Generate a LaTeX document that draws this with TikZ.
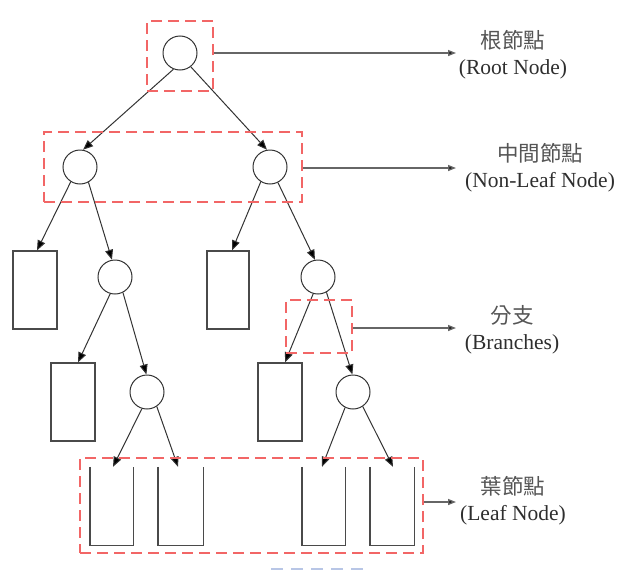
\documentclass[tikz,border=0pt]{standalone}
\usepackage{fontspec}
\setmainfont{Liberation Serif}
\newfontfamily\cjk{Noto Sans CJK TC}
\usetikzlibrary{arrows.meta}
\definecolor{hlred}{HTML}{F26666}
\definecolor{hlblue}{HTML}{B8C6E6}
\definecolor{lineg}{HTML}{333333}
\definecolor{boxg}{HTML}{4A4A4A}
\definecolor{cjkg}{HTML}{555555}
\definecolor{txtg}{HTML}{2E2E2E}
\begin{document}
\begin{tikzpicture}[x=1pt,y=-1pt,
  tnode/.style={circle, draw=lineg, line width=1pt, minimum size=34pt, inner sep=0pt},
  tbox/.style={rectangle, draw=boxg, line width=1.2pt, inner sep=0pt, minimum width=44pt, minimum height=78pt},
  leafbox/.style={rectangle, inner sep=0pt, minimum width=44pt, minimum height=78pt},
  leafline/.style={draw=boxg, line width=1.4pt},
  edge/.style={draw=lineg, line width=1pt, -{Triangle[length=10pt,width=8pt,fill=black]}},
  hl/.style={rectangle, draw=hlred, line width=1.5pt, dash pattern=on 11pt off 6pt, inner sep=0pt},
  ptr/.style={draw=black!60, line width=1.4pt, -{Triangle[length=8pt,width=6pt,fill=black]}},
  lab/.style={align=center, inner sep=0pt, text=txtg, font=\fontsize{21.5}{26}\selectfont}
]
\useasboundingbox (0,0) rectangle (617,570);

% tree nodes
\node[tnode] (root) at (180,53) {};
\node[tnode] (n1) at (80,167) {};
\node[tnode] (n2) at (270,167) {};
\node[tbox] (r1) at (35,290) {};
\node[tnode] (n3) at (115,277) {};
\node[tbox, minimum width=42pt] (r2) at (228,290) {};
\node[tnode] (n4) at (318,277) {};
\node[tbox] (r3) at (73,402) {};
\node[tnode] (n5) at (147,392) {};
\node[tbox] (r4) at (280,402) {};
\node[tnode] (n6) at (353,392) {};

% leaf nodes (open at top)
\node[leafbox, minimum width=43pt] (L1) at (111.5,506) {};
\node[leafbox, minimum width=45pt] (L2) at (180.5,506) {};
\node[leafbox, minimum width=43pt] (L3) at (323.5,506) {};
\node[leafbox, minimum width=44pt] (L4) at (392,506) {};
\foreach \l in {L1,L2,L3,L4}
  \draw[leafline] (\l.north west) -- (\l.south west) -- (\l.south east) -- (\l.north east);

% edges
\draw[edge] (root.248) -- (n1.80);
\draw[edge] (root.308) -- (n2.100);
\draw[edge] (n1.238) -- ([xshift=2pt]r1.north);
\draw[edge] (n1.299) -- (n3.100);
\draw[edge] (n2.238) -- ([xshift=4pt]r2.north);
\draw[edge] (n2.297) -- (n4.100);
\draw[edge] (n3.254) -- ([xshift=5pt]r3.north);
\draw[edge] (n3.297) -- (n5.92);
\draw[edge] (n4.254) -- ([xshift=5pt]r4.north);
\draw[edge] (n4.299) -- (n6.92);
\draw[edge] (n5.253) -- ([xshift=1.5pt]L1.north);
\draw[edge] (n5.304) -- ([xshift=-2.5pt]L2.north);
\draw[edge] (n6.243) -- ([xshift=-1.5pt]L3.north);
\draw[edge] (n6.304) -- ([xshift=1pt]L4.north);

% highlight boxes
\node[hl, minimum width=66pt, minimum height=70pt] (hb1) at (180,56) {};
\node[hl, minimum width=258pt, minimum height=70pt] (hb2) at (173,167) {};
\node[hl, minimum width=66pt, minimum height=53pt] (hb3) at (319,326.5) {};
\node[hl, minimum width=343pt, minimum height=95pt] (hb4) at (251.5,505.5) {};

% labels
\node[lab] (lab1) at (513,55) {{\cjk\color{cjkg}根節點}\\(Root Node)};
\node[lab] (lab2) at (540,168) {{\cjk\color{cjkg}中間節點}\\(Non-Leaf Node)};
\node[lab] (lab3) at (512,330) {{\cjk\color{cjkg}分支}\\(Branches)};
\node[lab] (lab4) at (513,501) {{\cjk\color{cjkg}葉節點}\\(Leaf Node)};

\coordinate (t1) at (456,53);
\coordinate (t2) at (456,168);
\coordinate (t3) at (456,328);
\coordinate (t4) at (456,502);
\draw[ptr] (hb1.east |- t1) -- (t1);
\draw[ptr] (hb2.east |- t2) -- (t2);
\draw[ptr] (hb3.east |- t3) -- (t3);
\draw[ptr] (hb4.east |- t4) -- (t4);

% faint blue dashes at the bottom
\coordinate (bd1) at (271,568.5);
\coordinate (bd2) at (363,568.5);
\draw[draw=hlblue, line width=2pt, dash pattern=on 12pt off 8pt] (bd1) -- (bd2);
\end{tikzpicture}
\end{document}
